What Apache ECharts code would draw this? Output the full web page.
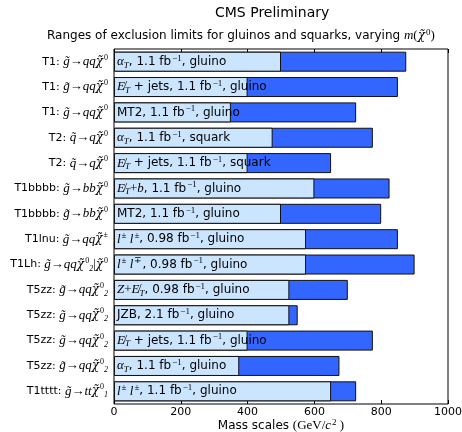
<!DOCTYPE html>
<html>
<head>
<meta charset="utf-8">
<script src="https://cdn.jsdelivr.net/npm/echarts@6/dist/echarts.min.js"></script>
<style>
  html, body { margin: 0; padding: 0; background: #fff; }
  #chart { width: 462px; height: 432px; }
</style>
</head>
<body>
<div id="chart"></div>
<script>
// Simplified models, top to bottom (rich-text markup for the decay chains)
const models = [
  'T1:', 'T1:', 'T1:', 'T2:', 'T2:', 'T1bbbb:', 'T1bbbb:',
  'T1lnu:', 'T1Lh:', 'T5zz:', 'T5zz:', 'T5zz:', 'T5zz:', 'T1tttt:'
];
const decays = [
  '{m|g̃→qq}{x|χ̃}{sup|0}',
  '{m|g̃→qq}{x|χ̃}{sup|0}',
  '{m|g̃→qq}{x|χ̃}{sup|0}',
  '{m|q̃→q}{x|χ̃}{sup|0}',
  '{m|q̃→q}{x|χ̃}{sup|0}',
  '{m|g̃→bb}{x|χ̃}{sup|0}',
  '{m|g̃→bb}{x|χ̃}{sup|0}',
  '{m|g̃→qq}{x|χ̃}{sup|±}',
  '{m|g̃→qq}{x|χ̃}{sup|0}{sub|2}{r||}{x|χ̃}{sup|0}',
  '{m|g̃→qq}{x|χ̃}{sup|0}{sub|2}',
  '{m|g̃→qq}{x|χ̃}{sup|0}{sub|2}',
  '{m|g̃→qq}{x|χ̃}{sup|0}{sub|2}',
  '{m|g̃→qq}{x|χ̃}{sup|0}{sub|2}',
  '{m|g̃→tt}{x|χ̃}{sup|0}{sub|1}'
];
// Analysis, luminosity and particle for each bar
const analyses = [
  '{m|α}{sub|T}{t|, 1.1 fb}{sup|−1}{t|, gluino}',
  '{m|E̸}{sub|T}{t| + jets, 1.1 fb}{sup|−1}{t|, gluino}',
  '{t|MT2, 1.1 fb}{sup|−1}{t|, gluino}',
  '{m|α}{sub|T}{t|, 1.1 fb}{sup|−1}{t|, squark}',
  '{m|E̸}{sub|T}{t| + jets, 1.1 fb}{sup|−1}{t|, squark}',
  '{m|E̸}{sub|T}{r|+}{m|b}{t|, 1.1 fb}{sup|−1}{t|, gluino}',
  '{t|MT2, 1.1 fb}{sup|−1}{t|, gluino}',
  '{m|l}{sup|±}{m| l}{sup|±}{t|, 0.98 fb}{sup|−1}{t|, gluino}',
  '{m|l}{sup|±}{m| l}{sup|∓}{t|, 0.98 fb}{sup|−1}{t|, gluino}',
  '{m|Z}{r|+}{m|E̸}{sub|T}{t|, 0.98 fb}{sup|−1}{t|, gluino}',
  '{t|JZB, 2.1 fb}{sup|−1}{t|, gluino}',
  '{m|E̸}{sub|T}{t| + jets, 1.1 fb}{sup|−1}{t|, gluino}',
  '{m|α}{sub|T}{t|, 1.1 fb}{sup|−1}{t|, gluino}',
  '{m|l}{sup|±}{m| l}{sup|±}{t|, 1.1 fb}{sup|−1}{t|, gluino}'
];
// Lower and upper ends of each exclusion range (GeV/c^2)
const lowerLimits = [500, 400, 350, 475, 400, 600, 500, 575, 575, 525, 525, 400, 375, 650];
const upperLimits = [875, 850, 725, 775, 650, 825, 800, 850, 900, 700, 550, 775, 675, 725];
const xTicks = [0, 200, 400, 600, 800, 1000];

const categories = models.map((m, i) => i);

const SANS = 'DejaVu Sans';
const SERIF = 'Liberation Serif';

function makeRich(size, mathSize) {
  return {
    t: { fontFamily: SANS, fontSize: size, color: '#000', lineHeight: 16 },
    n: { fontFamily: SANS, fontSize: size, color: '#000', lineHeight: 16 },
    r: { fontFamily: SERIF, fontSize: mathSize, color: '#000', lineHeight: 16 },
    m: { fontFamily: SERIF, fontStyle: 'italic', fontSize: mathSize, color: '#000', lineHeight: 16 },
    x: { fontFamily: 'DejaVu Serif', fontStyle: 'italic', fontSize: mathSize - 1, color: '#000', lineHeight: 16 },
    sup: { fontFamily: SERIF, fontSize: size - 3, color: '#000', lineHeight: 16,
           verticalAlign: 'top', padding: [0, 0, 0, 1] },
    sub: { fontFamily: SERIF, fontStyle: 'italic', fontSize: size - 3, color: '#000', lineHeight: 16,
           verticalAlign: 'bottom' }
  };
}
const richBar = makeRich(12, 13);
const richAxis = makeRich(11, 13);

const chart = echarts.init(document.getElementById('chart'), null, { renderer: 'canvas' });

chart.setOption({
  animation: false,
  backgroundColor: '#fff',
  title: [
    {
      text: 'CMS Preliminary',
      left: 215, top: 6, padding: 0,
      textStyle: { fontFamily: SANS, fontSize: 14, fontWeight: 'normal', color: '#000' }
    },
    {
      text: '{t|Ranges of exclusion limits for gluinos and squarks, varying }{m|m}{r|(}{x|χ̃}{sup|0}{r|)}',
      left: 47, top: 28, padding: 0,
      textStyle: {
        fontFamily: SANS, fontSize: 12, fontWeight: 'normal', color: '#000',
        rich: richBar
      }
    }
  ],
  grid: {
    left: 114, right: 14, top: 49, bottom: 28,
    outerBoundsMode: 'none',
    show: true, borderColor: '#000', borderWidth: 1, backgroundColor: 'transparent'
  },
  xAxis: [
    {
      type: 'value', min: 0, max: 1000, interval: 200, position: 'bottom',
      axisLine: { show: false },
      axisTick: { show: true, inside: true, length: 4, lineStyle: { color: '#000' } },
      axisLabel: { fontFamily: SANS, fontSize: 11, color: '#000', margin: 3,
        formatter: v => xTicks.indexOf(v) >= 0 ? String(v) : '' },
      splitLine: { show: false },
      name: '{t|Mass scales }{r|(GeV/}{m|c}{sup|2}{r| )}',
      nameLocation: 'middle', nameGap: 14, nameMoveOverlap: false,
      nameTextStyle: { rich: makeRich(12, 13) }
    },
    {
      type: 'value', min: 0, max: 1000, interval: 200, position: 'top',
      axisLine: { show: false },
      axisTick: { show: true, inside: true, length: 4, lineStyle: { color: '#000' } },
      axisLabel: { show: false },
      splitLine: { show: false }
    }
  ],
  yAxis: {
    type: 'category', data: categories, inverse: true,
    axisLine: { show: false },
    axisTick: { show: false },
    axisLabel: {
      margin: 6, align: 'right',
      formatter: (v, i) => '{n|' + models[i] + ' }' + decays[i],
      rich: richAxis
    }
  },
  series: [
    {
      name: 'upper', type: 'bar', xAxisIndex: 0,
      data: upperLimits, barWidth: 20, barGap: '-100%',
      itemStyle: { color: '#3366ff', borderColor: '#111', borderWidth: 1 },
      z: 2
    },
    {
      name: 'lower', type: 'bar', xAxisIndex: 0,
      data: lowerLimits, barWidth: 20, barGap: '-100%',
      itemStyle: { color: '#cce5ff', borderColor: '#111', borderWidth: 1 },
      label: {
        show: true, position: 'insideLeft', distance: 3,
        formatter: p => analyses[p.dataIndex],
        rich: richBar
      },
      z: 3
    }
  ]
});
</script>
</body>
</html>
